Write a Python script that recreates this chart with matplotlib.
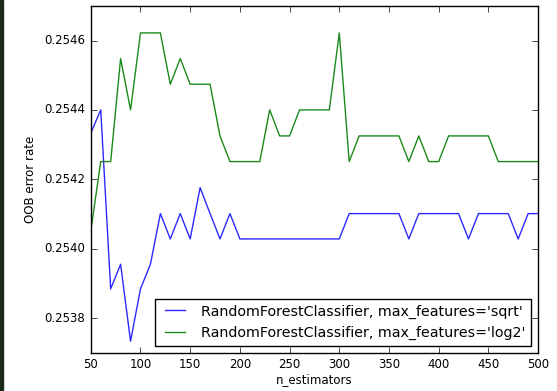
import numpy as np
import matplotlib
matplotlib.use("Agg")
import matplotlib.pyplot as plt

n_estimators = np.arange(50, 510, 10)

sqrt_err = [0.254333, 0.254400, 0.253884, 0.253955, 0.253733, 0.253884, 0.253955, 0.254101,
            0.254028, 0.254101, 0.254028, 0.254176, 0.254101, 0.254028, 0.254101,
            0.254028, 0.254028, 0.254028, 0.254028, 0.254028, 0.254028, 0.254028,
            0.254028, 0.254028, 0.254028, 0.254028,
            0.254101, 0.254101, 0.254101, 0.254101, 0.254101, 0.254101, 0.254028,
            0.254101, 0.254101, 0.254101, 0.254101, 0.254101, 0.254028, 0.254101,
            0.254101, 0.254101, 0.254101, 0.254028, 0.254101, 0.254101]

log2_err = [0.254051, 0.254251, 0.254251, 0.254548, 0.254400, 0.254622, 0.254622, 0.254622,
            0.254474, 0.254548, 0.254474, 0.254474, 0.254474, 0.254325, 0.254251,
            0.254251, 0.254251, 0.254251, 0.254400, 0.254325, 0.254325, 0.254400,
            0.254400, 0.254400, 0.254400, 0.254622, 0.254251, 0.254325, 0.254325,
            0.254325, 0.254325, 0.254325, 0.254251, 0.254325, 0.254251, 0.254251,
            0.254325, 0.254325, 0.254325, 0.254325, 0.254325, 0.254251, 0.254251,
            0.254251, 0.254251, 0.254251]

plt.style.use("classic")
fig = plt.figure(figsize=(5.57, 3.91), dpi=100, facecolor="white")
ax = fig.add_axes([0.163, 0.098, 0.803, 0.887])
ax.plot(n_estimators, sqrt_err, "-", color="#2a2aff", label="RandomForestClassifier, max_features='sqrt'")
ax.plot(n_estimators, log2_err, "-", color="#1a8a1a", label="RandomForestClassifier, max_features='log2'")
ax.set_xlim(50, 500)
ax.set_ylim(0.2537, 0.2547)
ax.set_yticks([0.2538, 0.2540, 0.2542, 0.2544, 0.2546])
ax.ticklabel_format(axis="y", useOffset=False)
ax.tick_params(labelsize=8.5)
ax.set_xlabel("n_estimators", size=8.5, labelpad=1)
ax.set_ylabel("OOB error rate", size=8.5)
ax.legend(loc="lower right", fontsize=10.3, borderaxespad=0.5)

# dark strip on the left edge of the screenshot
fig.patches.append(plt.Rectangle((0, 0), 0.006, 1, transform=fig.transFigure,
                                 color="#1a2a1a", zorder=10))

fig.savefig("out.png", dpi=100, facecolor="white")
